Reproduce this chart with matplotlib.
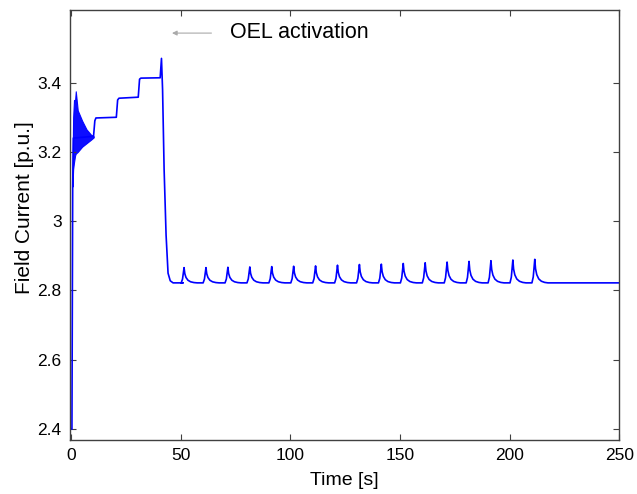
import numpy as np
import matplotlib
matplotlib.use("Agg")
import matplotlib.pyplot as plt
from matplotlib.ticker import FormatStrFormatter

plt.rcParams['font.family'] = ['Liberation Sans', 'DejaVu Sans']

# main trace breakpoints (time [s], field current [p.u.])
trace_t = [0.0, 0.35, 0.7, 1.0, 10.2, 10.8, 11.3, 20.6, 21.2, 21.8, 30.6, 31.2,
           31.8, 40.6, 41.2, 41.7, 42.4, 43.3, 44.2, 45.2, 46.5, 51.0]
trace_v = [2.40, 2.40, 3.10, 3.24, 3.245, 3.29, 3.298, 3.300, 3.350, 3.355, 3.358,
           3.410, 3.413, 3.414, 3.470, 3.380, 3.150, 2.960, 2.850, 2.828, 2.822, 2.822]

# envelope of the initial oscillation
osc_t = [0.6, 0.9, 1.3, 1.8, 2.1, 3.0, 5.0, 7.0, 9.0, 10.3]
osc_hi = [3.15, 3.30, 3.35, 3.35, 3.375, 3.32, 3.29, 3.265, 3.25, 3.245]
osc_lo = [3.10, 3.15, 3.17, 3.19, 3.195, 3.20, 3.215, 3.225, 3.235, 3.242]

# periodic pulses after OEL activation
peak_t = [51.5, 61.5, 71.5, 81.5, 91.5, 101.5, 111.5, 121.5, 131.5, 141.5,
          151.5, 161.5, 171.5, 181.5, 191.5, 201.5, 211.5]
peak_v = [2.866, 2.866, 2.867, 2.868, 2.869, 2.870, 2.871, 2.873, 2.875, 2.876,
          2.878, 2.880, 2.882, 2.884, 2.886, 2.888, 2.890]
baseline = 2.822
t_end = 250.0

shape_dt = [-1.3, -0.7, -0.3, 0.0, 0.35, 0.9, 1.8, 3.0, 4.5, 6.0]
shape_f = [0.0, 0.25, 0.7, 1.0, 0.6, 0.35, 0.17, 0.07, 0.02, 0.0]

t_all = list(trace_t)
v_all = list(trace_v)
for tp, vp in zip(peak_t, peak_v):
    for dt, f in zip(shape_dt, shape_f):
        t_all.append(tp + dt)
        v_all.append(baseline + f * (vp - baseline))
t_all.append(t_end)
v_all.append(baseline)

fig = plt.figure(figsize=(6.37, 4.94), dpi=100)
ax = fig.add_axes([0.110, 0.109, 0.862, 0.871])

ax.fill_between(osc_t, osc_lo, osc_hi, color='#0000ff', lw=0.8, alpha=0.95)
ax.plot(t_all, v_all, color='#0000ff', lw=1.2)

ax.set_xlim(-0.5, 250)
ax.set_ylim(2.368, 3.61)
ax.set_xticks([0, 50, 100, 150, 200, 250])
ax.set_yticks([2.4, 2.6, 2.8, 3.0, 3.2, 3.4])
ax.yaxis.set_major_formatter(FormatStrFormatter('%g'))
ax.tick_params(direction='in', top=True, right=True, length=4, width=0.8,
               color='#404040', labelsize=12.5, pad=6)
for s in ax.spines.values():
    s.set_color('#404040')
    s.set_linewidth(1.0)

ax.set_xlabel('Time [s]', fontsize=14, labelpad=6)
ax.set_ylabel('Field Current [p.u.]', fontsize=15)
ax.yaxis.set_label_coords(-0.066, 0.54)

ax.annotate('', xy=(46, 3.543), xytext=(64, 3.543),
            arrowprops=dict(arrowstyle='-|>', color='#aaaaaa', lw=0.8,
                            mutation_scale=7, shrinkA=0, shrinkB=0))
ax.text(72.5, 3.545, 'OEL activation', fontsize=15.5, va='center', ha='left')

fig.savefig('out.png', dpi=100)
